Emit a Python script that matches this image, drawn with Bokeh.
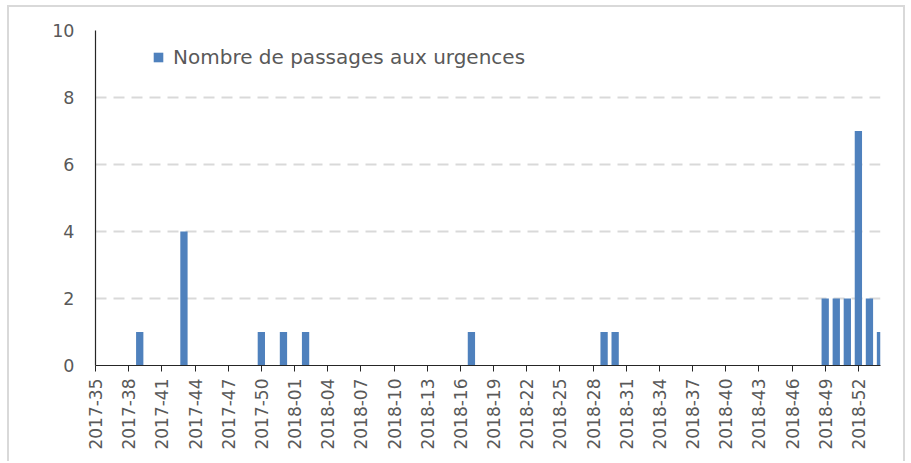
from bokeh.plotting import figure
from bokeh.models import ColumnDataSource, Range1d, FixedTicker, Legend, LegendItem
from bokeh.embed import file_html
from bokeh.resources import INLINE
import math

# ---- data ----
weeks = [
    "2017-35", "2017-36", "2017-37", "2017-38", "2017-39", "2017-40", "2017-41", "2017-42", "2017-43",
    "2017-44", "2017-45", "2017-46", "2017-47", "2017-48", "2017-49", "2017-50", "2017-51", "2017-52",
    "2018-01", "2018-02", "2018-03", "2018-04", "2018-05", "2018-06", "2018-07", "2018-08", "2018-09",
    "2018-10", "2018-11", "2018-12", "2018-13", "2018-14", "2018-15", "2018-16", "2018-17", "2018-18",
    "2018-19", "2018-20", "2018-21", "2018-22", "2018-23", "2018-24", "2018-25", "2018-26", "2018-27",
    "2018-28", "2018-29", "2018-30", "2018-31", "2018-32", "2018-33", "2018-34", "2018-35", "2018-36",
    "2018-37", "2018-38", "2018-39", "2018-40", "2018-41", "2018-42", "2018-43", "2018-44", "2018-45",
    "2018-46", "2018-47", "2018-48", "2018-49", "2018-50", "2018-51", "2018-52", "2019-01", "2019-02",
]
passages = [
    0, 0, 0, 0, 1, 0, 0, 0, 4, 0, 0, 0, 0, 0, 0, 1, 0, 1,
    0, 1, 0, 0, 0, 0, 0, 0, 0, 0, 0, 0, 0, 0, 0, 0, 1, 0,
    0, 0, 0, 0, 0, 0, 0, 0, 0, 0, 1, 1, 0, 0, 0, 0, 0, 0,
    0, 0, 0, 0, 0, 0, 0, 0, 0, 0, 0, 0, 2, 2, 2, 7, 2, 1,
]
series_name = "Nombre de passages aux urgences"
y_ticks = [0, 2, 4, 6, 8, 10]
label_every = 3

FONT = "DejaVu Sans"
TXT = "#595959"
BAR = "#4F81BD"

idx = list(range(len(weeks)))
src = ColumnDataSource(dict(x=idx, top=passages, week=weeks))

# canvas starts at (9, 7) inside a light-grey chart-area border
W, H = 898, 456
p = figure(width=W, height=H, output_backend="svg", toolbar_location=None,
           x_range=Range1d(0, len(weeks) - 1), y_range=Range1d(0, 10),
           min_border_left=86, min_border_right=27, min_border_top=23, min_border_bottom=98)
p.styles = {
    "margin-left": "7px",
    "margin-top": "5px",
    "border-left": "2px solid #d9d9d9",
    "border-top": "2px solid #d9d9d9",
    "border-right": "2px solid #d9d9d9",
}
p.outline_line_color = None
p.background_fill_color = "white"
p.border_fill_color = "white"

r = p.vbar(x="x", top="top", width=0.66, source=src, fill_color=BAR, line_color=None)

# x axis
xa = p.xaxis[0]
ticks = idx[::label_every]
xa.ticker = FixedTicker(ticks=ticks)
xa.major_label_overrides = {i: weeks[i] for i in ticks}
xa.major_label_orientation = math.pi / 2
xa.major_label_text_font = FONT
xa.major_label_text_font_size = "17px"
xa.major_label_text_color = TXT
xa.major_tick_out = 6
xa.major_tick_in = 0
xa.minor_tick_out = 0
xa.minor_tick_in = 0
xa.major_label_standoff = 7
xa.axis_line_color = "#262626"
xa.major_tick_line_color = "#262626"
xa.axis_line_width = 1.2

# y axis
ya = p.yaxis[0]
ya.ticker = FixedTicker(ticks=y_ticks)
ya.major_label_text_font = FONT
ya.major_label_text_font_size = "17.5px"
ya.major_label_text_color = TXT
ya.major_tick_out = 0
ya.major_tick_in = 0
ya.minor_tick_out = 0
ya.minor_tick_in = 0
ya.major_label_standoff = 21
ya.axis_line_color = "#262626"
ya.axis_line_width = 1.2

p.xgrid.grid_line_color = None
p.ygrid.grid_line_color = "#d9d9d9"
p.ygrid.grid_line_width = 2
p.ygrid.grid_line_dash = "11 7"

legend = Legend(items=[LegendItem(label=series_name, renderers=[r])],
                location=(57, 296), orientation="vertical")
legend.margin = 0
legend.padding = 0
legend.spacing = 0
legend.border_line_color = None
legend.background_fill_alpha = 0
legend.glyph_width = 12
legend.glyph_height = 12
legend.label_height = 22
legend.label_standoff = 9
legend.label_text_font = FONT
legend.label_text_font_size = "20px"
legend.label_text_color = TXT
p.add_layout(legend)

open("out.html", "w").write(file_html(p, INLINE))
